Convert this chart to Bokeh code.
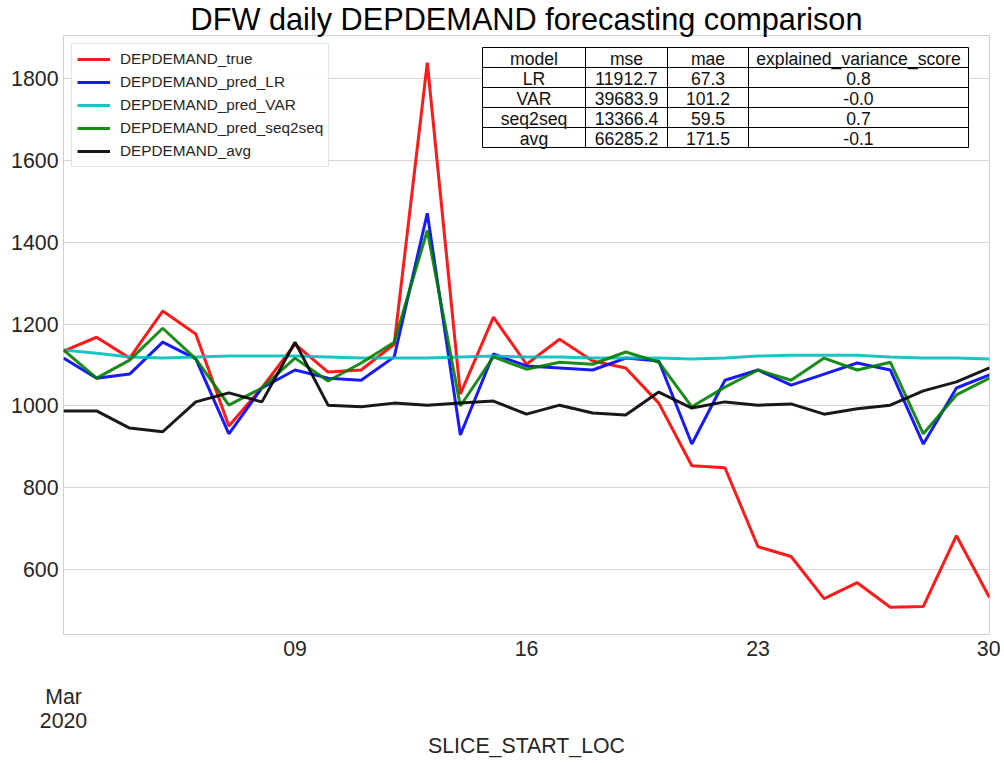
import pandas as pd
from bokeh.plotting import figure
from bokeh.models import (Range1d, SingleIntervalTicker, FixedTicker, DatetimeAxis,
                          DatetimeTickFormatter, Legend, LegendItem)
from bokeh.embed import file_html
from bokeh.resources import INLINE
from bokeh.core.properties import value

# ---------------- data ----------------
start_date = "2020-03-02"
end_date = "2020-03-30"

dep_true = [1134, 1168, 1117, 1232, 1176, 951, 1045, 1151, 1083, 1088, 1151, 1839, 1029, 1217,
            1102, 1163, 1110, 1093, 1007, 854, 849, 656, 632, 529, 568, 508, 510, 683, 532]
pred_lr = [1117, 1068, 1078, 1156, 1115, 932, 1044, 1088, 1068, 1063, 1120, 1471, 929, 1127,
           1098, 1093, 1088, 1117, 1110, 907, 1063, 1088, 1051, 1078, 1105, 1088, 907, 1044, 1076]
pred_var = [1137, 1129, 1120, 1117, 1120, 1122, 1122, 1122, 1120, 1117, 1117, 1117, 1120, 1122,
            1120, 1120, 1117, 1117, 1117, 1115, 1117, 1122, 1124, 1124, 1124, 1120, 1117, 1117, 1115]
pred_s2s = [1137, 1068, 1112, 1190, 1115, 1002, 1044, 1117, 1061, 1105, 1156, 1429, 1000, 1120,
            1090, 1107, 1102, 1132, 1107, 998, 1046, 1088, 1063, 1117, 1088, 1107, 932, 1027, 1068]
dep_avg = [988, 988, 946, 937, 1010, 1032, 1010, 1156, 1002, 998, 1007, 1002, 1007, 1012,
           980, 1002, 983, 978, 1034, 995, 1010, 1002, 1005, 980, 993, 1002, 1037, 1059, 1093]

series_names = ["DEPDEMAND_true", "DEPDEMAND_pred_LR", "DEPDEMAND_pred_VAR",
                "DEPDEMAND_pred_seq2seq", "DEPDEMAND_avg"]
series_values = [dep_true, pred_lr, pred_var, pred_s2s, dep_avg]
series_colors = ["#ff0000", "#0000ff", "#00bfbf", "#008000", "#000000"]

table_header = ["model", "mse", "mae", "explained_variance_score"]
table_model = ["LR", "VAR", "seq2seq", "avg"]
table_mse = ["11912.7", "39683.9", "13366.4", "66285.2"]
table_mae = ["67.3", "101.2", "59.5", "171.5"]
table_evs = ["0.8", "-0.0", "0.7", "-0.1"]

dates = pd.date_range(start_date, end_date, freq="D")

# ---------------- layout ----------------
W, H = 1000, 761
FL, FT = 63, 35          # frame left / top in figure px
FW, FH = 926, 599        # frame width / height
FR = W - FL - FW
FB = H - FT - FH

all_vals = [v for s in series_values for v in s]
vmin, vmax = min(all_vals), max(all_vals)
pad = 0.05 * (vmax - vmin)
ylo, yhi = vmin - pad, vmax + pad

x0 = dates[0].value / 1e6
x1 = dates[-1].value / 1e6

FONT = "Liberation Sans"
TICK_SIZE = "21.3px"

p = figure(width=W, height=H, x_axis_type="datetime", output_backend="svg",
           toolbar_location=None, min_border_left=FL, min_border_right=FR,
           min_border_top=FT, min_border_bottom=FB,
           x_range=Range1d(x0, x1), y_range=Range1d(ylo, yhi))

p.title.text = "DFW daily DEPDEMAND forecasting comparison"
p.title.align = "center"
p.title.text_font = FONT
p.title.text_font_size = "30.7px"
p.title.text_font_style = "normal"
p.title.text_color = "#000000"
p.title.text_line_height = 1.0
p.title.standoff = -3

p.outline_line_color = "#d0d0d0"
p.outline_line_width = 1
p.background_fill_color = "white"
p.border_fill_color = "white"

# y axis
yt = SingleIntervalTicker(interval=200)
p.yaxis.ticker = yt
p.ygrid.ticker = yt
p.yaxis.axis_line_color = None
p.yaxis.major_tick_line_color = None
p.yaxis.minor_tick_line_color = None
p.yaxis.major_tick_out = 0
p.yaxis.major_tick_in = 0
p.yaxis.minor_tick_out = 0
p.yaxis.major_label_text_font = FONT
p.yaxis.major_label_text_font_size = TICK_SIZE
p.yaxis.major_label_text_color = "#262626"
p.yaxis.major_label_standoff = 5
p.ygrid.grid_line_color = "#d6d6d6"
p.xgrid.grid_line_color = None

fields = ["microseconds", "milliseconds", "seconds", "minsec", "minutes",
          "hourmin", "hours", "days", "months", "years"]


def fmt(s):
    return DatetimeTickFormatter(**{f: s for f in fields})


def style_x(ax, standoff):
    ax.axis_line_color = None
    ax.major_tick_line_color = None
    ax.minor_tick_line_color = None
    ax.major_tick_out = 0
    ax.major_tick_in = 0
    ax.minor_tick_out = 0
    ax.major_label_text_font = FONT
    ax.major_label_text_font_size = TICK_SIZE
    ax.major_label_text_color = "#262626"
    ax.major_label_standoff = standoff


xa = p.xaxis[0]
xa.ticker = FixedTicker(ticks=[d.value / 1e6 for d in dates[7::7]])
xa.formatter = fmt("%d")
style_x(xa, 6)

xb = DatetimeAxis(ticker=FixedTicker(ticks=[x0]), formatter=fmt("%b"))
style_x(xb, 26)
p.add_layout(xb, "below")

xc = DatetimeAxis(ticker=FixedTicker(ticks=[x0]), formatter=fmt("%Y"))
style_x(xc, 1)
xc.axis_label = "SLICE_START_LOC"
xc.axis_label_text_font = FONT
xc.axis_label_text_font_size = TICK_SIZE
xc.axis_label_text_font_style = "normal"
xc.axis_label_text_color = "#262626"
xc.axis_label_standoff = 3
p.add_layout(xc, "below")

# lines
items = []
for name, vals, col in zip(series_names, series_values, series_colors):
    r = p.line(dates, vals, line_color=col, line_width=3, line_alpha=0.9)
    items.append(LegendItem(label=name, renderers=[r]))

legend = Legend(items=items, location="top_left", margin=8, padding=5, spacing=3,
                glyph_width=33, glyph_height=20, label_height=20, label_standoff=10,
                label_text_font=FONT, label_text_font_size="15.3px",
                label_text_color="#262626", border_line_color="#cccccc",
                border_line_width=1, background_fill_alpha=0.9)
p.add_layout(legend)


# table (page pixel positions -> data coords)
def px_x(px):
    return x0 + (px - FL) / FW * (x1 - x0)


def px_y(py):
    return yhi - (py - FT) / FH * (yhi - ylo)


col_edges = [482, 585, 667, 748, 968]
row_edges = [47, 67, 87, 107, 127, 147]
rows = [table_header] + [[m, a, b, c] for m, a, b, c in zip(table_model, table_mse, table_mae, table_evs)]

lefts, rights, tops, bottoms, tx, ty, tt = [], [], [], [], [], [], []
for i, row in enumerate(rows):
    for j, txt in enumerate(row):
        lefts.append(px_x(col_edges[j]))
        rights.append(px_x(col_edges[j + 1]))
        tops.append(px_y(row_edges[i]))
        bottoms.append(px_y(row_edges[i + 1]))
        tx.append(px_x((col_edges[j] + col_edges[j + 1]) / 2))
        ty.append(px_y((row_edges[i] + row_edges[i + 1]) / 2 + 1))
        tt.append(txt)

p.quad(left=lefts, right=rights, top=tops, bottom=bottoms, fill_color="white",
       line_color="#000000", line_width=1)
p.text(x=tx, y=ty, text=tt, text_align="center", text_baseline="middle",
       text_font=value(FONT), text_font_size="17.6px", text_color="#111111")

open("out.html", "w").write(file_html(p, INLINE))
